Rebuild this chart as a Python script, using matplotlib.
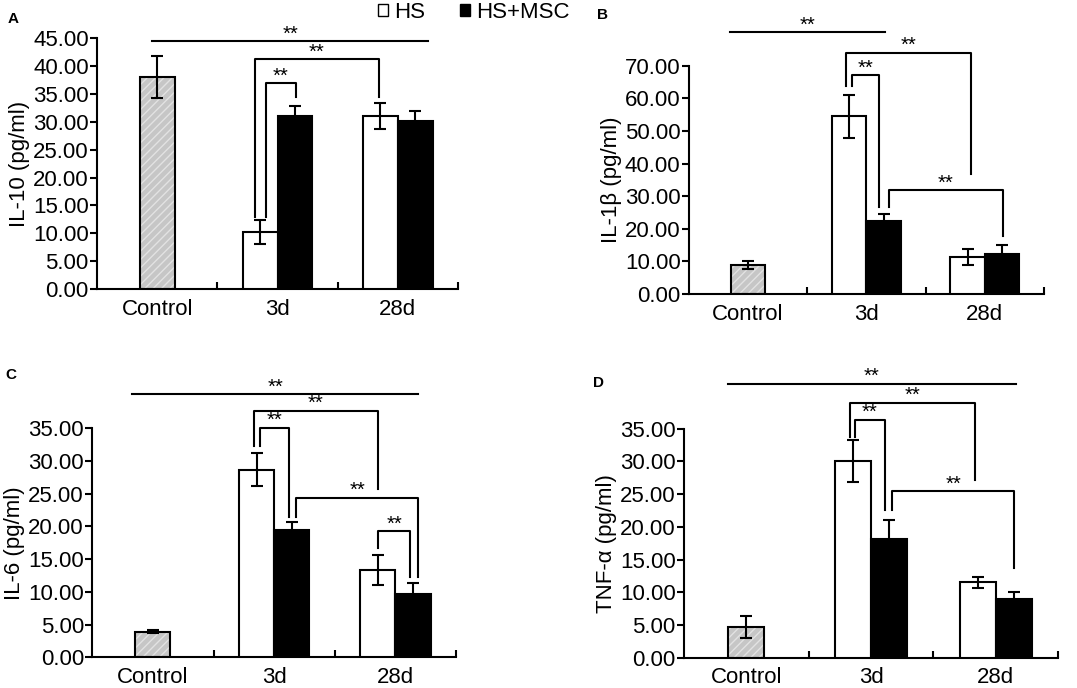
import matplotlib
matplotlib.use("Agg")
import matplotlib.pyplot as plt
from matplotlib.patches import Patch
import numpy as np

plt.rcParams['font.family'] = ['Liberation Sans', 'DejaVu Sans']
plt.rcParams['hatch.linewidth'] = 1.0

categories = ['Control', '3d', '28d']

# panel A: IL-10
il10_ctrl, il10_ctrl_err = 38.0, 3.8
il10_hs = [10.2, 31.0]
il10_hs_err = [2.2, 2.3]
il10_msc = [31.0, 30.2]
il10_msc_err = [1.9, 1.7]

# panel B: IL-1b
il1b_ctrl, il1b_ctrl_err = 8.9, 1.3
il1b_hs = [54.5, 11.3]
il1b_hs_err = [6.6, 2.5]
il1b_msc = [22.3, 12.3]
il1b_msc_err = [2.2, 2.6]

# panel C: IL-6
il6_ctrl, il6_ctrl_err = 3.9, 0.25
il6_hs = [28.7, 13.3]
il6_hs_err = [2.5, 2.3]
il6_msc = [19.5, 9.7]
il6_msc_err = [1.2, 1.7]

# panel D: TNF-a
tnf_ctrl, tnf_ctrl_err = 4.7, 1.7
tnf_hs = [30.1, 11.5]
tnf_hs_err = [3.2, 0.8]
tnf_msc = [18.1, 9.0]
tnf_msc_err = [2.9, 1.0]

# significance brackets: (x left, x right, y top, y left end, y right end)
sig_a = [(-0.04, 2.25, 44.5, 44.5, 44.5),
         (0.81, 1.84, 41.3, 12.9, 34.5),
         (0.90, 1.15, 36.9, 12.9, 34.5)]
sig_b = [(-0.15, 1.16, 80.4, 80.4, 80.4),
         (0.83, 1.88, 74.0, 63.8, 36.8),
         (0.88, 1.11, 67.0, 63.8, 26.6),
         (1.19, 2.15, 31.9, 26.6, 17.9)]
sig_c = [(-0.17, 2.19, 40.2, 40.2, 40.2),
         (0.83, 1.86, 37.7, 32.3, 25.8),
         (0.88, 1.12, 35.1, 32.3, 21.5),
         (1.18, 2.19, 24.4, 21.5, 12.3),
         (1.86, 2.12, 19.3, 16.7, 12.3)]
sig_d = [(-0.15, 2.16, 41.9, 41.9, 41.9),
         (0.83, 1.83, 39.0, 33.8, 27.2),
         (0.87, 1.11, 36.4, 33.8, 22.6),
         (1.17, 2.15, 25.5, 22.6, 13.7)]

FS = 16
LW = 1.5
W = 0.29

fig = plt.figure(figsize=(10.77, 6.88), dpi=100)


def panel(rect, letter, letter_pos, ylabel, ymax, ystep,
          ctrl, ctrl_err, hs, hs_err, msc, msc_err, sigs):
    ax = fig.add_axes(rect)
    # control bar: grey with light diagonal hatch
    ax.bar(0, ctrl, W, color='#c6c6c6', hatch='////', edgecolor='#e2e2e2',
           linewidth=0, zorder=2)
    ax.bar(0, ctrl, W, fill=False, edgecolor='black', linewidth=LW, zorder=3)
    ax.errorbar(0, ctrl, yerr=ctrl_err, fmt='none', ecolor='black',
                elinewidth=LW, capsize=4, capthick=LW, zorder=4)
    x = np.array([1, 2])
    ax.bar(x - W / 2, hs, W, color='white', edgecolor='black', linewidth=LW, zorder=3)
    ax.bar(x + W / 2, msc, W, color='black', edgecolor='black', linewidth=LW, zorder=3)
    ax.errorbar(x - W / 2, hs, yerr=hs_err, fmt='none', ecolor='black',
                elinewidth=LW, capsize=4, capthick=LW, zorder=4)
    ax.errorbar(x + W / 2, msc, yerr=msc_err, fmt='none', ecolor='black',
                elinewidth=LW, capsize=4, capthick=LW, zorder=4)

    for x1, x2, yt, yl, yr in sigs:
        ax.plot([x1, x1, x2, x2], [yl, yt, yt, yr], color='black', lw=LW,
                clip_on=False, zorder=5)
        ax.annotate('**', ((x1 + x2) / 2, yt), xytext=(0, 1),
                    textcoords='offset points', ha='center', va='baseline',
                    fontsize=14.5, annotation_clip=False)

    ax.set_xlim(-0.5, 2.5)
    ax.set_ylim(0, ymax)
    ax.set_yticks(np.arange(0, ymax + 0.01, ystep))
    ax.set_yticklabels(['%.2f' % v for v in np.arange(0, ymax + 0.01, ystep)])
    ax.set_xticks([0, 1, 2])
    ax.set_xticklabels(categories)
    ax.set_xticks([0.5, 1.5, 2.5], minor=True)
    ax.tick_params(axis='x', which='major', length=0, pad=7, labelsize=FS)
    ax.tick_params(axis='x', which='minor', direction='in', length=5, width=LW)
    ax.tick_params(axis='y', length=5, width=LW, pad=1, labelsize=FS)
    for s in ['top', 'right']:
        ax.spines[s].set_visible(False)
    for s in ['left', 'bottom']:
        ax.spines[s].set_linewidth(LW)
    ax.set_ylabel(ylabel, fontsize=FS, labelpad=2)
    fig.text(letter_pos[0], letter_pos[1], letter, fontsize=11,
             fontweight='bold', ha='center', va='center')
    return ax


panel([0.0901, 0.580, 0.3352, 0.3644], 'A', (0.012, 0.972), 'IL-10 (pg/ml)',
      45, 5, il10_ctrl, il10_ctrl_err, il10_hs, il10_hs_err, il10_msc, il10_msc_err, sig_a)
panel([0.6397, 0.5727, 0.3296, 0.3318], 'B', (0.559, 0.978), 'IL-1β (pg/ml)',
      70, 10, il1b_ctrl, il1b_ctrl_err, il1b_hs, il1b_hs_err, il1b_msc, il1b_msc_err, sig_b)
panel([0.0857, 0.0446, 0.3377, 0.3328], 'C', (0.010, 0.455), 'IL-6 (pg/ml)',
      35, 5, il6_ctrl, il6_ctrl_err, il6_hs, il6_hs_err, il6_msc, il6_msc_err, sig_c)
panel([0.6351, 0.0440, 0.3473, 0.3328], 'D', (0.556, 0.443), 'TNF-α (pg/ml)',
      35, 5, tnf_ctrl, tnf_ctrl_err, tnf_hs, tnf_hs_err, tnf_msc, tnf_msc_err, sig_d)

handles = [Patch(facecolor='white', edgecolor='black', linewidth=1.0, label='HS'),
           Patch(facecolor='black', edgecolor='black', linewidth=1.0, label='HS+MSC')]
fig.legend(handles=handles, loc='center', bbox_to_anchor=(0.440, 0.9815), ncol=2,
           frameon=False, fontsize=FS, handlelength=0.45, handleheight=0.45,
           handletextpad=0.25, columnspacing=1.6, borderaxespad=0, borderpad=0)

fig.savefig('out.png', dpi=100)
